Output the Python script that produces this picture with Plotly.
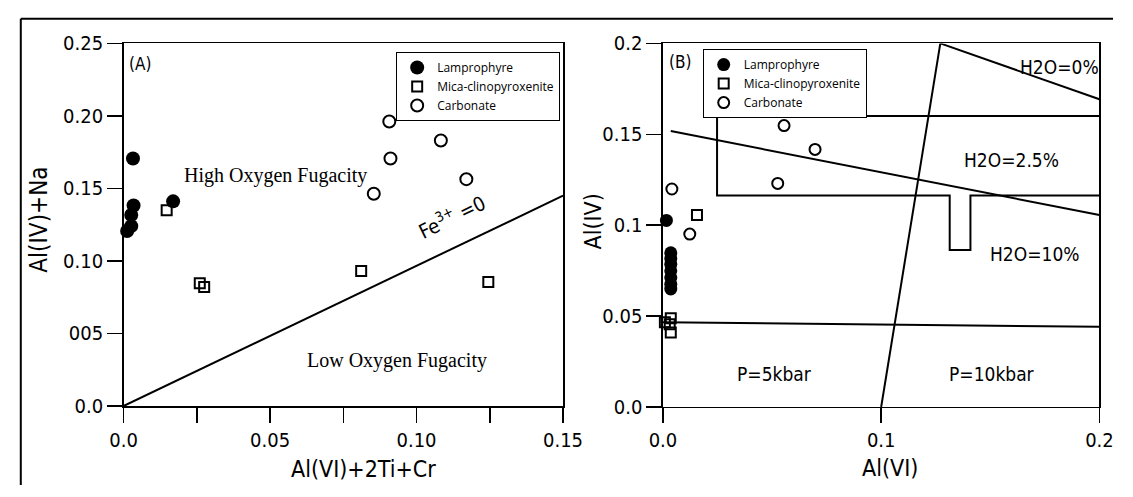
import plotly.graph_objects as go

W, H = 1133, 497
NARROW = "DejaVu Sans Condensed, DejaVu Sans, sans-serif"
SANS = "Open Sans, Noto Sans, sans-serif"
SERIF = "Liberation Serif, Times New Roman, serif"

# ---------------- Panel A data ----------------
a_lamp_x = [0.0032, 0.0034, 0.0026, 0.0026, 0.0012, 0.0169]
a_lamp_y = [0.1706, 0.1382, 0.1317, 0.1240, 0.1207, 0.1411]
a_mica_x = [0.0147, 0.0260, 0.0275, 0.0811, 0.1245]
a_mica_y = [0.1350, 0.0846, 0.0820, 0.0930, 0.0855]
a_carb_x = [0.0907, 0.1083, 0.0911, 0.1170, 0.0854]
a_carb_y = [0.1962, 0.1831, 0.1706, 0.1564, 0.1463]
a_fe_line_x = [0.0, 0.15]
a_fe_line_y = [0.0, 0.145]
a_xticks = [0, 0.025, 0.05, 0.075, 0.10, 0.125, 0.15]
a_xticklabels = ["0.0", "", "0.05", "", "0.10", "", "0.15"]
a_yticks = [0, 0.05, 0.10, 0.15, 0.20, 0.25]
a_yticklabels = ["0.0", "005", "0.10", "0.15", "0.20", "0.25"]

# ---------------- Panel B data ----------------
b_lamp_x = [0.0016, 0.0036, 0.0036, 0.0036, 0.0036, 0.0036, 0.0036, 0.0036]
b_lamp_y = [0.1026, 0.0848, 0.0817, 0.0785, 0.0749, 0.0712, 0.0675, 0.0649]
b_mica_x = [0.0156, 0.0036, 0.0031, 0.0036, 0.0009]
b_mica_y = [0.1056, 0.0488, 0.0455, 0.0410, 0.0466]
b_carb_x = [0.0041, 0.0123, 0.0555, 0.0697, 0.0526]
b_carb_y = [0.1199, 0.0951, 0.1548, 0.1417, 0.1230]
# boundary lines
b_press_x = [0.100, 0.1271]
b_press_y = [0.000, 0.200]
b_h2o0_x = [0.1271, 0.200]
b_h2o0_y = [0.200, 0.1693]
b_slant_x = [0.0036, 0.200]
b_slant_y = [0.1518, 0.1056]
b_low_x = [0.0, 0.200]
b_low_y = [0.0466, 0.0441]
b_box_x = [0.200, 0.0248, 0.0248, 0.1314, 0.1314, 0.1409, 0.1409, 0.200]
b_box_y = [0.160, 0.160, 0.1164, 0.1164, 0.0864, 0.0864, 0.1164, 0.1164]
b_xticks = [0, 0.1, 0.2]
b_xticklabels = ["0.0", "0.1", "0.2"]
b_yticks = [0, 0.05, 0.1, 0.15, 0.2]
b_yticklabels = ["0.0", "0.05", "0.1", "0.15", "0.2"]

fig = go.Figure()

def pts(x, y, name, symbol, size, xa, ya, legend, showleg=True):
    filled = symbol == "circle"
    return go.Scatter(
        x=x, y=y, mode="markers", name=name, xaxis=xa, yaxis=ya,
        legend=legend, showlegend=showleg, cliponaxis=False,
        marker=dict(symbol=symbol, size=size, color="black",
                    line=dict(color="black", width=0 if filled else 2)))

def line(x, y, xa, ya):
    return go.Scatter(x=x, y=y, mode="lines", xaxis=xa, yaxis=ya,
                      showlegend=False, hoverinfo="skip", cliponaxis=False,
                      line=dict(color="black", width=2))

# panel A
fig.add_trace(line(a_fe_line_x, a_fe_line_y, "x", "y"))
fig.add_trace(pts(a_lamp_x, a_lamp_y, "Lamprophyre", "circle", 14, "x", "y", "legend"))
fig.add_trace(pts(a_mica_x, a_mica_y, "Mica-clinopyroxenite", "square-open", 10, "x", "y", "legend"))
fig.add_trace(pts(a_carb_x, a_carb_y, "Carbonate", "circle-open", 12, "x", "y", "legend"))

# panel B
for lx, ly in [(b_press_x, b_press_y), (b_h2o0_x, b_h2o0_y), (b_slant_x, b_slant_y),
               (b_low_x, b_low_y), (b_box_x, b_box_y)]:
    fig.add_trace(line(lx, ly, "x2", "y2"))
fig.add_trace(pts(b_lamp_x, b_lamp_y, "Lamprophyre", "circle", 13, "x2", "y2", "legend2"))
fig.add_trace(pts(b_mica_x, b_mica_y, "Mica-clinopyroxenite", "square-open", 10, "x2", "y2", "legend2"))
fig.add_trace(pts(b_carb_x, b_carb_y, "Carbonate", "circle-open", 11, "x2", "y2", "legend2"))

def px(v):
    return v / W

def py(v):
    return 1 - v / H

axis_common = dict(showline=True, mirror=True, linecolor="black", linewidth=1.5,
                   ticks="outside", ticklen=15, tickwidth=1.5, tickcolor="black",
                   showgrid=False, zeroline=False, tickmode="array",
                   tickfont=dict(family=NARROW, size=20, color="black"))

fig.update_layout(
    width=W, height=H, margin=dict(l=0, r=0, t=0, b=0),
    paper_bgcolor="white", plot_bgcolor="white", hovermode=False,
    xaxis=dict(domain=[px(113), px(566)], range=[0, 0.15], anchor="y",
               tickvals=a_xticks, ticktext=a_xticklabels, **axis_common),
    yaxis=dict(domain=[py(414), py(33)], range=[0, 0.25], anchor="x",
               tickvals=a_yticks, ticktext=a_yticklabels, **axis_common),
    xaxis2=dict(domain=[px(669), px(1119)], range=[0, 0.2], anchor="y2",
                tickvals=b_xticks, ticktext=b_xticklabels, **axis_common),
    yaxis2=dict(domain=[py(415), py(33)], range=[0, 0.2], anchor="x2",
                tickvals=b_yticks, ticktext=b_yticklabels, **axis_common),
    legend=dict(x=px(394), y=py(42), xanchor="left", yanchor="top",
                bordercolor="black", borderwidth=1, bgcolor="white",
                font=dict(family=SANS, size=12, color="black"),
                itemwidth=30, tracegroupgap=0),
    legend2=dict(x=px(710), y=py(39), xanchor="left", yanchor="top",
                 bordercolor="black", borderwidth=1, bgcolor="white",
                 font=dict(family=SANS, size=12, color="black"),
                 itemwidth=30, tracegroupgap=0),
    showlegend=True,
)

# outer frame (top and left edges; the image is cropped at right and bottom)
fig.add_shape(type="line", xref="paper", yref="paper",
              x0=px(7), y0=py(7), x1=1, y1=py(7),
              line=dict(color="black", width=2), layer="below")
fig.add_shape(type="line", xref="paper", yref="paper",
              x0=px(7), y0=py(7), x1=px(7), y1=0,
              line=dict(color="black", width=2), layer="below")

ann = []
def text(t, x, y, xref, yref, size, family=NARROW, angle=0):
    ann.append(dict(text=t, x=x, y=y, xref=xref, yref=yref, showarrow=False,
                    textangle=angle, xanchor="center", yanchor="middle",
                    font=dict(family=family, size=size, color="black")))

# axis titles
text("Al(IV)+Na", px(26), py(218), "paper", "paper", 24, angle=-90)
text("Al(VI)+2Ti+Cr", px(360), py(480), "paper", "paper", 23)
text("Al(IV)", px(597), py(220), "paper", "paper", 23, angle=-90)
text("Al(VI)", px(903), py(479), "paper", "paper", 23)

# panel A labels
text("(A)", 0.0056, 0.236, "x", "y", 17)
text("High Oxygen Fugacity", 0.052, 0.159, "x", "y", 20, family=SERIF)
text("Low Oxygen Fugacity", 0.0933, 0.0317, "x", "y", 20, family=SERIF)
text("Fe<sup>3+</sup> =0", 0.112, 0.131, "x", "y", 20, angle=-26)

# panel B labels
text("(B)", 0.008, 0.1895, "x2", "y2", 17)
text("H2O=0%", 0.1818, 0.187, "x2", "y2", 19)
text("H2O=2.5%", 0.1596, 0.1356, "x2", "y2", 19)
text("H2O=10%", 0.1707, 0.0843, "x2", "y2", 19)
text("P=5kbar", 0.0511, 0.0183, "x2", "y2", 19)
text("P=10kbar", 0.1507, 0.0183, "x2", "y2", 19)

fig.update_layout(annotations=ann)
fig.write_html(
    "out.html", config={"displayModeBar": False, "staticPlot": True},
    post_script=("document.documentElement.style.margin='0px';"
                 "document.documentElement.style.overflow='hidden';"
                 "document.body.style.margin='0px';"
                 "document.body.style.overflow='hidden';"))
